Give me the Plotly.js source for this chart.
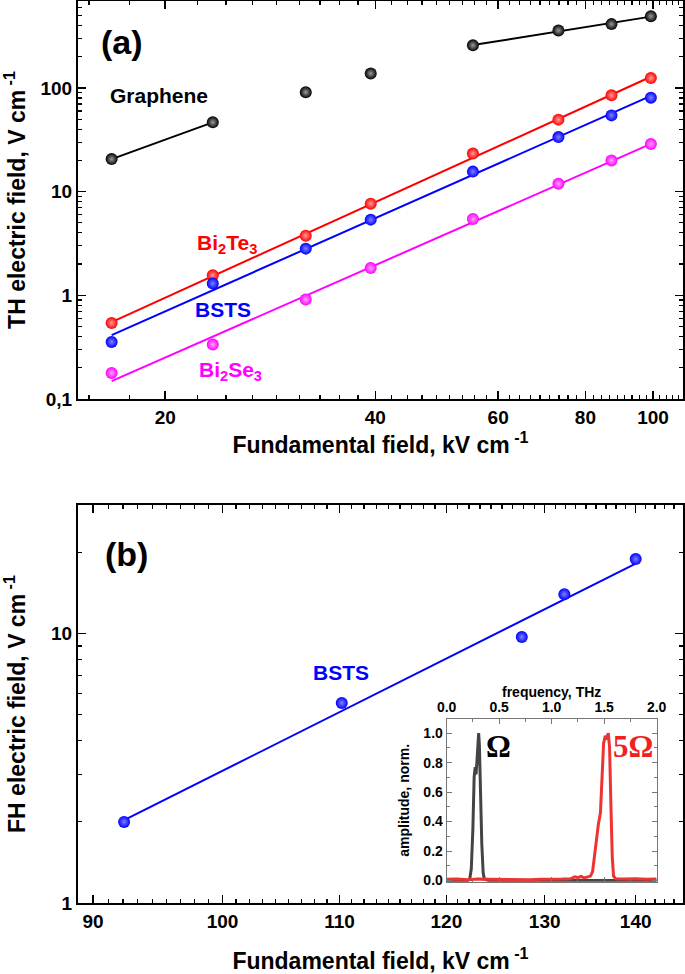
<!DOCTYPE html>
<html><head><meta charset="utf-8">
<script src="https://cdn.plot.ly/plotly-3.0.1.min.js"></script>
<style>html,body{margin:0;padding:0;background:#fff}#chart{width:685px;height:974px}</style>
</head><body><div id="chart"></div>
<script>
// ---- Panel (a): third harmonic vs fundamental field ----
const fundA    = [16.76, 23.4, 31.8, 39.4, 55.2, 73.2, 87.2, 99.3];
const graphene = [20.6, 46.6, 91, 138, 258, 359, 413, 493];
const bi2te3   = [0.54, 1.56, 3.76, 7.66, 23.3, 49.5, 84.9, 124.6];
const bsts     = [0.355, 1.30, 2.82, 5.37, 15.6, 33.6, 54.4, 80.6];
const bi2se3   = [0.178, 0.335, 0.909, 1.83, 5.44, 11.9, 20.0, 28.8];
const tickA_x  = [20, 40, 60, 80, 100];
const tickA_xt = ['20', '40', '60', '80', '100'];
const tickA_y  = [0.1, 1, 10, 100];
const tickA_yt = ['0,1', '1', '10', '100'];

// ---- Panel (b): fifth harmonic vs fundamental field ----
const fundB   = [92.3, 110.2, 127.6, 132.1, 140.0];
const bstsFH  = [2.0, 5.53, 9.71, 14.0, 18.9];
const tickB_x = [90, 100, 110, 120, 130, 140];
const tickB_y = [1, 10];
const tickB_yt = ['1', '10'];

// ---- Inset: normalized spectra ----
const omegaF = [0.00, 0.10, 0.20, 0.22, 0.235, 0.25, 0.262, 0.272, 0.280, 0.288, 0.297, 0.305, 0.312, 0.322, 0.335, 0.348, 0.360, 0.40, 0.80, 1.20, 1.60, 2.00];
const omegaA = [0.00, 0.00, 0.00, 0.01, 0.08, 0.35, 0.70, 0.77, 0.72, 0.80, 0.96, 1.00, 0.92, 0.60, 0.25, 0.05, 0.01, 0.00, 0.00, 0.00, 0.00, 0.00];
const fiveF = [0.00, 0.10, 0.20, 0.30, 0.40, 0.50, 0.60, 0.70, 0.80, 0.90, 1.00, 1.10, 1.18, 1.22, 1.25, 1.28, 1.31, 1.34, 1.37, 1.39, 1.42, 1.445, 1.465, 1.48, 1.495, 1.51, 1.525, 1.54, 1.552, 1.565, 1.578, 1.59, 1.61, 1.70, 1.80, 1.90, 2.00];
const fiveA = [0.008, 0.01, 0.006, 0.01, 0.008, 0.007, 0.01, 0.008, 0.006, 0.009, 0.008, 0.01, 0.012, 0.025, 0.02, 0.028, 0.018, 0.022, 0.03, 0.06, 0.25, 0.38, 0.46, 0.70, 0.93, 0.98, 0.97, 1.00, 0.90, 0.50, 0.15, 0.03, 0.012, 0.01, 0.012, 0.008, 0.01];

// power-law (log-log least squares) fit between first and last x of the subset
function fitLine(xs, ys) {
  const lx = xs.map(Math.log10), ly = ys.map(Math.log10);
  const n = lx.length;
  const mx = lx.reduce((a, b) => a + b, 0) / n, my = ly.reduce((a, b) => a + b, 0) / n;
  let sxy = 0, sxx = 0;
  for (let i = 0; i < n; i++) { sxy += (lx[i] - mx) * (ly[i] - my); sxx += (lx[i] - mx) ** 2; }
  const b = sxy / sxx, a = my - b * mx;
  const x0 = Math.min(...xs), x1 = Math.max(...xs);
  return { x: [x0, x1], y: [Math.pow(10, a + b * Math.log10(x0)), Math.pow(10, a + b * Math.log10(x1))] };
}

// minor tick helpers (8 minor ticks between majors, as in the original)
function linMinors(majors, lo, hi, n) {
  const step = (majors[1] - majors[0]) / (n + 1);
  const out = [];
  for (let v = majors[0] - step; v > lo; v -= step) out.push(v);
  for (let i = 0; i < majors.length; i++) {
    for (let k = 1; k <= n; k++) { const v = majors[i] + k * step; if (v < hi) out.push(v); }
  }
  return out;
}
function logMinors(e0, e1) {
  const out = [];
  for (let e = e0; e <= e1; e++) for (let d = 2; d <= 9; d++) out.push(d * Math.pow(10, e));
  return out;
}

const FONT = 'Liberation Sans, Arial, sans-serif';
const SERIF = 'Liberation Serif, Times New Roman, serif';
const tickFont = { family: FONT, size: 19, color: '#000', weight: 'bold' };
const titleFont = { family: FONT, size: 23, color: '#000', weight: 'bold' };
const insetFont = { family: FONT, size: 14, color: '#000', weight: 'bold' };

function baseAxis(extra) {
  return Object.assign({
    showline: true, linewidth: 2, linecolor: '#000', mirror: 'allticks',
    ticks: 'inside', ticklen: 8, tickwidth: 1.5, tickcolor: '#000',
    showgrid: false, zeroline: false, tickfont: tickFont, fixedrange: true
  }, extra);
}

const traces = [];
function addSeries(xs, ys, color, light, fits, xa, ya) {
  fits.forEach(f => traces.push({
    type: 'scatter', mode: 'lines', x: f.x, y: f.y, xaxis: xa, yaxis: ya,
    line: { color: color, width: 2 }, hoverinfo: 'skip', showlegend: false
  }));
  traces.push({
    type: 'scatter', mode: 'markers', x: xs, y: ys, xaxis: xa, yaxis: ya, showlegend: false,
    marker: { size: 12, color: color, gradient: { type: 'radial', color: light }, line: { width: 0 } }
  });
}

addSeries(fundA, graphene, '#000000', '#9a9a9a',
  [fitLine(fundA.slice(0, 2), graphene.slice(0, 2)), fitLine(fundA.slice(4), graphene.slice(4))], 'x', 'y');
addSeries(fundA, bi2te3, '#ff0000', '#ff9a9a', [fitLine(fundA, bi2te3)], 'x', 'y');
addSeries(fundA, bsts, '#0000ff', '#8080ff', [fitLine(fundA, bsts)], 'x', 'y');
addSeries(fundA, bi2se3, '#ff00ff', '#ffa0ff', [fitLine(fundA, bi2se3)], 'x', 'y');
addSeries(fundB, bstsFH, '#0000ff', '#8080ff', [fitLine(fundB, bstsFH)], 'x2', 'y2');

traces.push({ type: 'scatter', mode: 'lines', x: omegaF, y: omegaA, xaxis: 'x3', yaxis: 'y3',
  line: { color: '#444444', width: 3 }, showlegend: false });
traces.push({ type: 'scatter', mode: 'lines', x: fiveF, y: fiveA, xaxis: 'x3', yaxis: 'y3',
  line: { color: '#ee3333', width: 3 }, showlegend: false });

const rangeAx = [Math.log10(15.0), Math.log10(110.4)];
const rangeBx = [Math.log10(88.9), Math.log10(145.5)];

function label(text, xref, yref, x, y, font) {
  return { text: text, xref: xref, yref: yref, x: x, y: y, xanchor: 'center', yanchor: 'middle', showarrow: false, font: font };
}

const layout = {
  width: 685, height: 974,
  margin: { l: 78, r: 2, t: 1, b: 71 },
  paper_bgcolor: '#fff', plot_bgcolor: '#fff',
  showlegend: false,
  xaxis: baseAxis({
    type: 'log', range: rangeAx, domain: [0, 1], anchor: 'y',
    tickmode: 'array', tickvals: tickA_x, ticktext: tickA_xt,
    minor: { tickmode: 'array', tickvals: linMinors(tickA_x, 15.0, 110.4, 8), ticks: 'inside', ticklen: 4, tickwidth: 1.2, tickcolor: '#000', showgrid: false },
    title: { text: 'Fundamental field, kV cm<sup> -1</sup>', font: titleFont, standoff: 10 }
  }),
  yaxis: baseAxis({
    type: 'log', range: [-1, 2.839], domain: [0.5588, 1], anchor: 'x',
    tickmode: 'array', tickvals: tickA_y, ticktext: tickA_yt,
    minor: { tickmode: 'array', tickvals: logMinors(-1, 2), ticks: 'inside', ticklen: 4, tickwidth: 1.2, tickcolor: '#000', showgrid: false },
    title: { text: 'TH electric field, V cm<sup> -1</sup>', font: titleFont }
  }),
  xaxis2: baseAxis({
    type: 'log', range: rangeBx, domain: [0, 1], anchor: 'y2',
    tickmode: 'array', tickvals: tickB_x, ticktext: tickB_x.map(String),
    minor: { tickmode: 'array', tickvals: linMinors(tickB_x, 88.9, 145.5, 8), ticks: 'inside', ticklen: 4, tickwidth: 1.2, tickcolor: '#000', showgrid: false },
    title: { text: 'Fundamental field, kV cm<sup> -1</sup>', font: titleFont }
  }),
  yaxis2: baseAxis({
    type: 'log', range: [0, Math.log10(30)], domain: [0, 0.4412], anchor: 'x2',
    tickmode: 'array', tickvals: tickB_y, ticktext: tickB_yt,
    minor: { tickmode: 'array', tickvals: logMinors(0, 1), ticks: 'inside', ticklen: 4, tickwidth: 1.2, tickcolor: '#000', showgrid: false },
    title: { text: 'FH electric field, V cm<sup> -1</sup>', font: titleFont }
  }),
  xaxis3: {
    domain: [0.6093, 0.9564], anchor: 'y3', side: 'top', range: [0, 2],
    tickmode: 'linear', tick0: 0, dtick: 0.5, tickformat: '.1f',
    showline: true, linewidth: 1, linecolor: '#777', mirror: 'allticks',
    ticks: 'inside', ticklen: 5, tickwidth: 1, tickcolor: '#777',
    minor: { dtick: 0.25, ticks: 'inside', ticklen: 3, tickcolor: '#777', showgrid: false },
    showgrid: false, zeroline: false, fixedrange: true,
    tickfont: insetFont
  },
  yaxis3: {
    domain: [0.0236, 0.204], anchor: 'x3', range: [-0.008, 1.096],
    tickmode: 'linear', tick0: 0, dtick: 0.2, tickformat: '.1f',
    showline: true, linewidth: 1, linecolor: '#777', mirror: 'allticks',
    ticks: 'inside', ticklen: 5, tickwidth: 1, tickcolor: '#777',
    minor: { dtick: 0.1, ticks: 'inside', ticklen: 3, tickcolor: '#777', showgrid: false },
    showgrid: false, zeroline: false, fixedrange: true,
    tickfont: insetFont,
    title: { text: 'amplitude, norm.', font: insetFont }
  },
  annotations: [
    label('(a)', 'x domain', 'y domain', 0.0722, 0.897, { family: FONT, size: 34, color: '#000', weight: 'bold' }),
    label('Graphene', 'x domain', 'y domain', 0.134, 0.762, { family: FONT, size: 21, color: '#000', weight: 'bold' }),
    label('Bi<sub>2</sub>Te<sub>3</sub>', 'x domain', 'y domain', 0.246, 0.39, { family: FONT, size: 21, color: '#ff0000', weight: 'bold' }),
    label('BSTS', 'x domain', 'y domain', 0.239, 0.2236, { family: FONT, size: 21, color: '#0000ff', weight: 'bold' }),
    label('Bi<sub>2</sub>Se<sub>3</sub>', 'x domain', 'y domain', 0.2526, 0.071, { family: FONT, size: 21, color: '#ff00ff', weight: 'bold' }),
    label('(b)', 'x2 domain', 'y2 domain', 0.0805, 0.877, { family: FONT, size: 34, color: '#000', weight: 'bold' }),
    label('BSTS', 'x2 domain', 'y2 domain', 0.4354, 0.5795, { family: FONT, size: 21, color: '#0000ff', weight: 'bold' }),
    label('frequency, THz', 'x3 domain', 'paper', 0.5, 0.234, insetFont),
    label('Ω', 'x3', 'y3', 0.492, 0.91, { family: SERIF, size: 31, color: '#000', weight: 'bold' }),
    label('5Ω', 'x3', 'y3', 1.778, 0.91, { family: SERIF, size: 31, color: '#ee2222', weight: 'bold' })
  ]
};

Plotly.newPlot('chart', traces, layout, { displayModeBar: false, staticPlot: true });
</script>
</body></html>
